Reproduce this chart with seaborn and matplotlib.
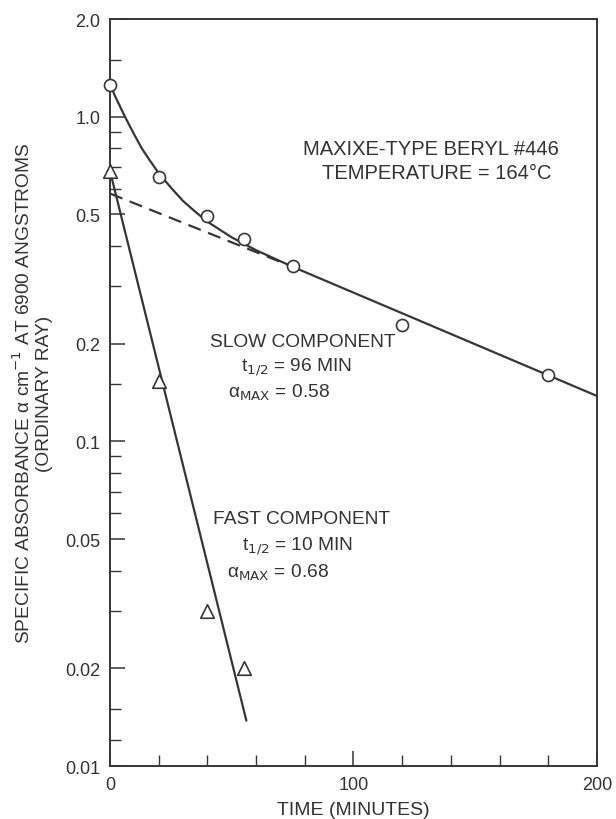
import matplotlib
matplotlib.use("Agg")
import matplotlib.pyplot as plt
import seaborn as sns
from matplotlib.ticker import FixedLocator, NullFormatter

sns.set_style("ticks")
plt.rcParams['font.family'] = ['Liberation Sans', 'DejaVu Sans']

t_circ = [0, 20, 40, 55, 75, 120, 180]
a_circ = [1.25, 0.65, 0.495, 0.42, 0.348, 0.228, 0.160]
t_tri = [0, 20, 40, 55]
a_tri = [0.68, 0.154, 0.030, 0.020]

# curva total (suma de componentes)
t_curva = [0, 1, 2, 3, 4, 6, 8, 10, 13, 16, 20, 25, 30, 35, 40, 50, 60, 75]
a_curva = [1.26, 1.21, 1.16, 1.12, 1.08, 1.005, 0.94, 0.88, 0.80, 0.74, 0.67,
           0.605, 0.55, 0.51, 0.475, 0.425, 0.388, 0.345]

# componente lenta: extremos de la recta
t_lenta_dash = [0, 75]
a_lenta_dash = [0.58, 0.345]
t_lenta = [75, 200]
a_lenta = [0.345, 0.138]

# componente rapida
t_rapida = [0, 56]
a_rapida = [0.68, 0.0138]

y_major = [0.01, 0.02, 0.05, 0.1, 0.2, 0.5, 1.0, 2.0]
y_labels = ['0.01', '0.02', '0.05', '0.1', '0.2', '0.5', '1.0', '2.0']
y_minor = [0.012, 0.015, 0.03, 0.04, 0.06, 0.07, 0.08, 0.09, 0.15,
           0.3, 0.4, 0.6, 0.7, 0.8, 0.9, 1.5]
x_major = [0, 100, 200]
x_minor = [20, 40, 60, 80, 120, 140, 160, 180]

col = '#363636'
txt = '#333333'

fig = plt.figure(figsize=(6.16, 8.2), dpi=100)
ax = fig.add_axes([0.1786, 0.0646, 0.7905, 0.911])

sns.lineplot(x=t_curva, y=a_curva, ax=ax, color=col, lw=1.6, sort=False)
sns.lineplot(x=t_lenta_dash, y=a_lenta_dash, ax=ax, color=col, lw=1.6, linestyle=(0, (6, 3.5)))
sns.lineplot(x=t_lenta, y=a_lenta, ax=ax, color=col, lw=1.6)
sns.lineplot(x=t_rapida, y=a_rapida, ax=ax, color=col, lw=1.6)

sns.scatterplot(x=t_circ, y=a_circ, ax=ax, marker='o', s=75, facecolor='white',
                edgecolor=col, linewidth=1.2, zorder=5, clip_on=False)
sns.scatterplot(x=t_tri, y=a_tri, ax=ax, marker='^', s=95, facecolor='white',
                edgecolor=col, linewidth=1.2, zorder=5, clip_on=False)

ax.set_yscale('log')
ax.set_xlim(0, 200)
ax.set_ylim(0.01, 2.0)
ax.yaxis.set_major_locator(FixedLocator(y_major))
ax.set_yticklabels(y_labels)
ax.yaxis.set_minor_locator(FixedLocator(y_minor))
ax.yaxis.set_minor_formatter(NullFormatter())
ax.xaxis.set_major_locator(FixedLocator(x_major))
ax.xaxis.set_minor_locator(FixedLocator(x_minor))

ax.tick_params(which='major', direction='in', length=11, width=1.1, color=col,
               labelsize=13, labelcolor=txt, pad=7)
ax.tick_params(which='minor', direction='in', length=8, width=1.0, color=col)
for s in ax.spines.values():
    s.set_color(col)
    s.set_linewidth(1.4)

ax.set_xlabel('TIME (MINUTES)', fontsize=14, color=txt, labelpad=6)
ax.set_ylabel('SPECIFIC ABSORBANCE α cm$^{-1}$ AT 6900 ANGSTROMS\n(ORDINARY RAY)',
              fontsize=13.8, color=txt, linespacing=1.15)
ax.yaxis.set_label_coords(-0.118, 0.5)

kw = dict(fontsize=14.5, color=txt, ha='center', va='center')
ax.text(132, 0.80, 'MAXIXE-TYPE BERYL #446', **kw)
ax.text(134, 0.672, 'TEMPERATURE = 164°C', **kw)

kw2 = dict(fontsize=13.8, color=txt, ha='center', va='center')
ax.text(79, 0.2026, 'SLOW COMPONENT', **kw2)
ax.text(76.5, 0.171, 't$_{1/2}$ = 96 MIN', **kw2)
ax.text(48.5, 0.142, 'α$_{\\mathrm{MAX}}$ = 0.58', fontsize=13.8, color=txt, ha='left', va='center')

ax.text(78.5, 0.0578, 'FAST COMPONENT', **kw2)
ax.text(77, 0.0478, 't$_{1/2}$ = 10 MIN', **kw2)
ax.text(48, 0.0397, 'α$_{\\mathrm{MAX}}$ = 0.68', fontsize=13.8, color=txt, ha='left', va='center')

fig.savefig('out.png', dpi=100)
